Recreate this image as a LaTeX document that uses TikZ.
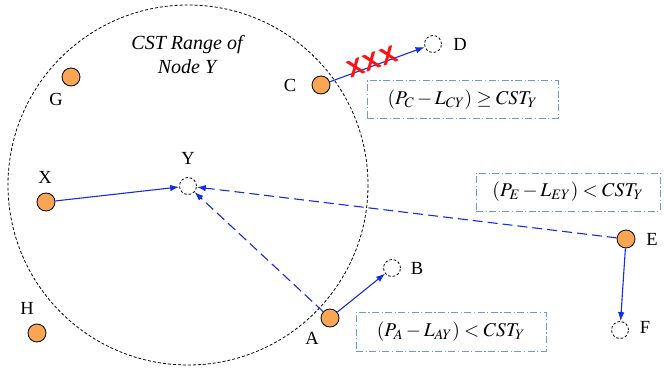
\documentclass[tikz,border=0pt]{standalone}
\usepackage{mathptmx}
\usepackage[no-math]{fontspec}
\setmainfont{Liberation Serif}
\usetikzlibrary{arrows.meta, positioning}
\definecolor{nodeorange}{RGB}{248,166,84}
\definecolor{linkblue}{RGB}{20,45,225}
\definecolor{boxblue}{RGB}{105,155,215}
\definecolor{crossred}{RGB}{250,20,20}

\begin{document}
\begin{tikzpicture}[x=1pt, y=-1pt,
		sensor/.style={circle, draw=black, fill=nodeorange, line width=0.8pt,
			minimum size=18pt, inner sep=0pt},
		ghost/.style={circle, draw=black, line width=0.8pt,
			dash pattern=on 2.5pt off 2pt, minimum size=17pt, inner sep=0pt},
		tag/.style={inner sep=0pt, font=\fontsize{18.5}{21}\selectfont},
		cond/.style={draw=boxblue, line width=1pt,
			dash pattern=on 7pt off 2.5pt on 1.2pt off 2.5pt,
			inner sep=0pt, font=\fontsize{19.5}{22}\selectfont},
		link/.style={-{Latex[length=9pt,width=6.5pt]}, line width=1.1pt, draw=linkblue},
		probe/.style={link, dash pattern=on 10pt off 5pt},
		cross/.style={text=crossred, inner sep=0pt, rotate=20,
			font=\fontsize{24}{24}\selectfont\sffamily\bfseries}
	]
		\useasboundingbox (0,0) rectangle (664,369);
		% range of node Y
		\draw[line width=0.8pt, dash pattern=on 3pt off 2pt] (188,185) circle[radius=180];
		\node[font=\fontsize{20}{24}\selectfont\itshape, align=center] (rangeTitle) at (187,55)
			{CST Range of\\Node Y};

		\node[sensor] (G) at (71,77) {};
		\node[sensor] (C) at (321,85) {};
		\node[sensor] (X) at (46,202) {};
		\node[sensor] (H) at (37,333) {};
		\node[sensor] (A) at (330,318) {};
		\node[sensor] (E) at (626,239) {};
		\node[ghost] (Y) at (188,186) {};
		\node[ghost] (D) at (433,44) {};
		\node[ghost] (B) at (392,268) {};
		\node[ghost] (F) at (620,330) {};

		\node[tag] (lblG) at (56,99) {G};
		\node[tag] (lblC) at (290,85) {C};
		\node[tag] (lblD) at (460,44) {D};
		\node[tag] (lblY) at (188,158) {Y};
		\node[tag] (lblX) at (45,177) {X};
		\node[tag] (lblH) at (27,308) {H};
		\node[tag] (lblA) at (312,338) {A};
		\node[tag] (lblB) at (417,268) {B};
		\node[tag] (lblE) at (652,239) {E};
		\node[tag] (lblF) at (645,327) {F};

		\node[cond, minimum width=191pt, minimum height=37pt] (condC) at (462.5,99.5)
			{$(P_C - L_{CY}) \geq CST_Y$};
		\node[cond, minimum width=184pt, minimum height=38pt] (condE) at (568,192)
			{$(P_E - L_{EY}) < CST_Y$};
		\node[cond, minimum width=190pt, minimum height=39pt] (condA) at (451,331.5)
			{$(P_A - L_{AY}) < CST_Y$};

		\foreach \a/\b in {X/Y,A/B,E/F}
			\draw[link] (\a) -- (\b);
		\draw[link] (C) -- node[cross, pos=0.46, yshift=4pt] (block) {XXX} (D);
		\foreach \a in {A,E}
			\draw[probe] (\a) -- (Y);
	\end{tikzpicture}
\end{document}
